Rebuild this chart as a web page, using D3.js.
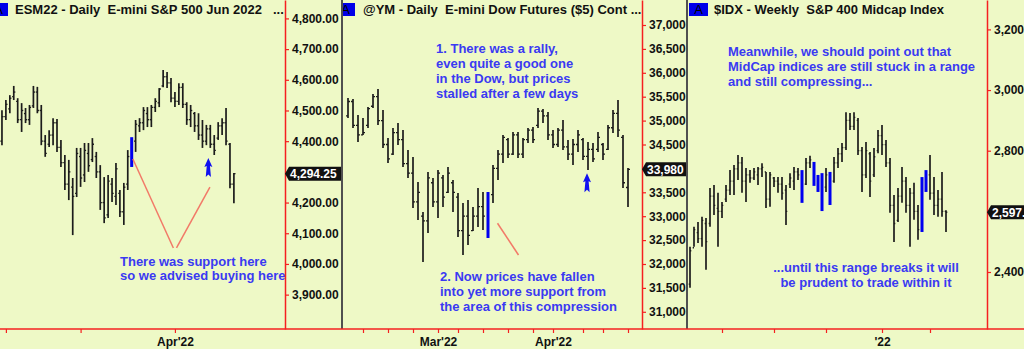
<!DOCTYPE html>
<html>
<head>
<meta charset="utf-8">
<script src="https://cdn.jsdelivr.net/npm/d3@7"></script>
<style>
  body { margin: 0; background: #eef9c6; }
  svg { display: block; font-family: "Liberation Sans", Arial, sans-serif; }
</style>
</head>
<body>
<svg id="chart" width="1024" height="349"></svg>
<script>
// ---- data: [open, high, low, close] per bar ----
var esBars = [
  [4400,4501,4387,4480],[4480,4534,4469,4520],[4505,4550,4491,4540],[4545,4580,4534,4560],[4530,4540,4459,4470],
  [4470,4524,4430,4500],[4490,4508,4459,4470],[4470,4518,4453,4510],[4515,4580,4508,4560],[4560,4577,4491,4500],
  [4500,4518,4387,4400],[4400,4420,4349,4360],[4390,4436,4381,4420],[4420,4475,4387,4460],[4460,4472,4365,4380],
  [4380,4404,4316,4330],[4330,4355,4241,4260],[4260,4339,4208,4300],[4250,4280,4094,4220],[4230,4378,4218,4360],
  [4350,4378,4251,4280],[4290,4394,4267,4370],[4360,4394,4300,4320],[4340,4410,4332,4390],[4350,4365,4280,4300],
  [4300,4322,4176,4200],[4200,4283,4133,4150],[4160,4290,4150,4270],[4260,4280,4202,4230],[4220,4329,4192,4310],
  [4230,4241,4153,4170],[4170,4264,4127,4250],[4260,4371,4241,4350],[4330,4413,4316,4400],[4400,4469,4365,4455],
  [4450,4475,4430,4460],[4460,4511,4436,4500],[4490,4511,4446,4470],[4470,4518,4446,4510],[4510,4540,4495,4530],
  [4525,4573,4511,4570],[4580,4632,4576,4610],[4610,4625,4573,4590],[4590,4606,4527,4540],[4540,4560,4511,4530],
  [4530,4589,4518,4575],[4575,4589,4508,4520],[4520,4527,4453,4470],[4470,4518,4446,4500],[4490,4495,4430,4450],
  [4450,4491,4404,4420],[4420,4469,4378,4400],[4400,4453,4387,4440],[4440,4453,4378,4390],[4390,4420,4355,4370],
  [4410,4462,4404,4450],[4450,4475,4420,4460],[4460,4508,4387,4400],[4390,4394,4247,4260],[4260,4296,4198,4294.25]
];
var esBlue = [33];
var esYTicks = [3900, 4000, 4100, 4200, 4300, 4400, 4500, 4600, 4700, 4800];
var esXTicks = [1, 20, 44];
var esXLabels = ["", "", "Apr'22"];
var esNote = ["There was support here", "so we advised buying here"];
var esArrows = [[52.5, 4345]];
var esLines = [[[33.3, 4342], [43.6, 4052]], [[44.4, 4052], [52.9, 4250]]];

var ymBars = [
  [35100,35473,35054,35400],[35400,35452,34845,34900],[34900,35117,34552,34700],[34700,35054,34699,34750],[34900,35285,34845,35250],
  [35300,35557,35264,35500],[35500,35660,34908,35000],[35000,35222,34427,34500],[34500,34636,34113,34200],[34300,34845,34280,34750],
  [34750,34950,34490,34600],[34600,34803,34029,34100],[34100,34385,33799,33900],[33900,34239,33172,33300],[33300,33716,32921,33500],
  [33000,33088,32042,32900],[32900,33925,32648,33800],[33700,33799,33192,33300],[33300,33966,32962,33900],[33800,33862,33192,33400],
  [33500,34029,33485,33900],[33700,33757,33088,33500],[33400,33485,32565,32700],[32700,33276,32188,33000],[33000,33339,32398,32600],
  [32700,33192,32690,33000],[33000,33590,32775,33200],[33200,33506,32711,33000],[32900,33506,32544,33450],[33450,34071,33276,34000],
  [34000,34385,33757,34300],[34300,34699,34113,34650],[34600,34636,34218,34300],[34300,34762,34280,34700],[34700,34762,34218,34300],
  [34300,34636,34218,34600],[34600,34845,34531,34800],[34800,34866,34531,34600],[34900,35264,34845,35200],[35200,35243,34950,35100],
  [35100,35180,34594,34700],[34700,34803,34427,34500],[34500,34845,34448,34800],[34800,35013,34385,34450],[34450,34594,34176,34300],
  [34300,34615,34071,34500],[34500,34803,34343,34700],[34600,34636,34176,34250],[34250,34552,33966,34400],[34400,34531,34134,34200],
  [34400,34762,34343,34650],[34500,34531,34176,34300],[34400,34908,34385,34850],[34850,35222,34740,35150],[35150,35431,34657,34800],
  [34650,34699,33590,33700],[33600,34008,33192,33980]
];
var ymBlue = [28];
var ymYTicks = [31000, 31500, 32000, 32500, 33000, 33500, 34000, 34500, 35000, 35500, 36000, 36500, 37000];
var ymXTicks = [3, 8, 13, 18, 22, 27, 32, 37, 41, 47, 51, 56];
var ymXLabels = ["", "", "", "Mar'22", "", "", "", "", "Apr'22", "", "", ""];
var ymNote1 = ["1. There was a rally,", "even quite a good one", "in the Dow, but prices", "stalled after a few days"];
var ymNote2 = ["2. Now prices have fallen", "into yet more support from", "the area of this compression"];
var ymArrows = [[47.8, 33898]];
var ymLines = [[[29.9, 32852], [34.1, 32188]]];

var idxBars = [
  [2360,2483,2348,2470],[2480,2549,2483,2540],[2530,2565,2496,2510],[2510,2582,2483,2570],[2560,2578,2407,2500],
  [2560,2677,2549,2650],[2650,2687,2588,2620],[2610,2661,2483,2600],[2600,2631,2578,2620],[2640,2687,2631,2670],
  [2670,2736,2654,2700],[2700,2753,2654,2740],[2740,2786,2703,2760],[2760,2779,2661,2700],[2700,2743,2631,2720],
  [2720,2736,2694,2710],[2710,2743,2703,2730],[2720,2746,2687,2740],[2740,2759,2713,2745],[2730,2730,2611,2640],
  [2640,2730,2615,2720],[2710,2713,2680,2700],[2700,2713,2661,2690],[2690,2713,2638,2660],[2670,2687,2555,2600],
  [2690,2726,2677,2710],[2700,2746,2670,2730],[2730,2743,2703,2720],[2720,2736,2628,2660],[2690,2776,2687,2760],
  [2760,2783,2743,2770],[2760,2763,2684,2700],[2700,2720,2664,2690],[2700,2726,2601,2640],[2680,2743,2664,2720],
  [2720,2730,2621,2650],[2700,2779,2694,2760],[2760,2809,2743,2790],[2790,2825,2763,2810],[2810,2927,2802,2900],
  [2900,2924,2868,2880],[2880,2927,2868,2910],[2900,2908,2786,2800],[2800,2812,2664,2720],[2720,2829,2710,2800],
  [2790,2796,2647,2700],[2720,2809,2713,2780],[2800,2868,2792,2850],[2850,2885,2786,2820],[2820,2835,2746,2760],
  [2760,2776,2595,2620],[2620,2654,2499,2560],[2570,2677,2565,2650],[2650,2746,2628,2700],[2700,2713,2595,2620],
  [2620,2677,2483,2660],[2660,2694,2572,2600],[2600,2621,2506,2540],[2540,2713,2532,2700],[2700,2736,2664,2720],
  [2720,2786,2638,2660],[2660,2713,2588,2620],[2620,2670,2582,2640],[2640,2730,2582,2600],[2600,2604,2532,2597]
];
var idxBlue = [28, 31, 32, 33, 35, 58, 59];
var idxYTicks = [2400, 2600, 2800, 3000, 3200];
var idxXTicks = [8, 21, 34, 48, 60];
var idxXLabels = ["", "", "", "'22", ""];
var idxNote1 = ["Meanwhile, we should point out that", "MidCap indices are still stuck in a range", "and still compressing..."];
var idxNote2 = ["...until this range breaks it will", "be prudent to trade within it"];

// ---- layout ----
var W = 1024, H = 349, baseY = 329;
var bg = "#eef9c6", red = "#f52020", barColor = "#1c1c1c", blue = "#0000f0", noteBlue = "#3a3af2", lineRed = "#f27a68";

var panels = [
  { left: 0, axisX: 285, right: 341, xDomain: [-0.5, 72], yDomain: [3788, 4860],
    bars: esBars, blue: esBlue, tick: 1.6, yTicks: esYTicks, fmt: ",.2f",
    xTicks: esXTicks, xLabels: esXLabels, last: 4294.25, lastText: "4,294.25",
    boxX: -11, titleX: 15, title: "ESM22 - Daily  E-mini S&P 500 Jun 2022", more: 273,
    notes: [{ lines: esNote, x: 120, y: 265.5, anchor: "start" }],
    arrows: esArrows, lines: esLines },
  { left: 343, axisX: 642, right: 686, xDomain: [-1, 58.8], yDomain: [30640, 37523],
    bars: ymBars, blue: ymBlue, tick: 2, yTicks: ymYTicks, fmt: ",",
    xTicks: ymXTicks, xLabels: ymXLabels, last: 33980, lastText: "33,980",
    boxX: 336, titleX: 363, title: "@YM - Daily  E-mini Dow Futures ($5) Cont ...", more: null,
    notes: [{ lines: ymNote1, x: 436, y: 53.3, anchor: "start" },
            { lines: ymNote2, x: 440, y: 281, anchor: "start" }],
    arrows: ymArrows, lines: ymLines },
  { left: 688, axisX: 987, right: 1030, xDomain: [-0.5, 74.25], yDomain: [2212, 3297],
    bars: idxBars, blue: idxBlue, tick: 1.3, yTicks: idxYTicks, fmt: ",",
    xTicks: idxXTicks, xLabels: idxXLabels, last: 2597, lastText: "2,597.",
    boxX: 689, titleX: 714, title: "$IDX - Weekly  S&P 400 Midcap Index", more: null,
    notes: [{ lines: idxNote1, x: 728, y: 56, anchor: "start" },
            { lines: idxNote2, x: 866, y: 271.7, anchor: "middle" }],
    arrows: [], lines: [] }
];

var svg = d3.select("#chart");
svg.append("rect").attr("width", W).attr("height", H).attr("fill", bg);

panels.forEach(function(p, k){ drawPanel(p, k); });

// separators and the shared baseline
[341, 686].forEach(function(sx){
  svg.append("rect").attr("x", sx).attr("y", 0).attr("width", 2).attr("height", baseY)
    .attr("fill", "#505050");
});
svg.append("line").attr("x1", 0).attr("x2", W).attr("y1", baseY).attr("y2", baseY)
  .attr("stroke", red).attr("stroke-width", 1.5);

function drawPanel(p, k){
  var x = d3.scaleLinear().domain(p.xDomain).range([p.left, p.axisX]);
  var y = d3.scaleLinear().domain(p.yDomain).range([baseY, 0]);

  svg.append("clipPath").attr("id", "clip" + k).append("rect")
    .attr("x", p.left).attr("y", 0).attr("width", p.axisX - p.left).attr("height", baseY);
  var g = svg.append("g").attr("clip-path", "url(#clip" + k + ")");

  // title
  g.append("rect").attr("x", p.boxX).attr("y", 3).attr("width", 19).attr("height", 13).attr("fill", "#0000e8");
  g.append("text").attr("x", p.boxX + 9.5).attr("y", 14).attr("text-anchor", "middle")
    .attr("font-size", 13).attr("fill", "#000").text("A");
  g.append("text").attr("x", p.titleX).attr("y", 14).attr("font-size", 13).attr("font-weight", "bold")
    .attr("fill", "#111").style("white-space", "pre").text(p.title);
  if (p.more != null) {
    g.append("text").attr("x", p.more).attr("y", 14).attr("font-size", 13).attr("font-weight", "bold")
      .attr("fill", "#111").text("...");
  }

  // bars
  g.append("g").selectAll("g").data(p.bars).enter().append("g")
    .each(function(d, i){
      var s = d3.select(this);
      var cx = x(i);
      if (p.blue.indexOf(i) >= 0) {
        s.append("rect").attr("x", cx - 1.5).attr("y", y(d[1]))
          .attr("width", 3).attr("height", y(d[2]) - y(d[1])).attr("fill", blue);
        return;
      }
      s.append("line").attr("x1", cx).attr("x2", cx).attr("y1", y(d[1])).attr("y2", y(d[2]))
        .attr("stroke", barColor).attr("stroke-width", 1.7);
      s.append("line").attr("x1", cx - p.tick).attr("x2", cx).attr("y1", y(d[0])).attr("y2", y(d[0]))
        .attr("stroke", barColor).attr("stroke-width", 1.3);
      s.append("line").attr("x1", cx).attr("x2", cx + p.tick).attr("y1", y(d[3])).attr("y2", y(d[3]))
        .attr("stroke", barColor).attr("stroke-width", 1.3);
    });

  // annotation lines
  p.lines.forEach(function(l){
    g.append("line").attr("x1", x(l[0][0])).attr("y1", y(l[0][1]))
      .attr("x2", x(l[1][0])).attr("y2", y(l[1][1]))
      .attr("stroke", lineRed).attr("stroke-width", 1.5);
  });

  // arrows
  p.arrows.forEach(function(a){
    g.append("path")
      .attr("transform", "translate(" + x(a[0]) + "," + y(a[1]) + ")")
      .attr("d", "M0,0 L4,9 L1.6,8 L2.6,19 L0,16.5 L-2.6,19 L-1.6,8 L-4,9 Z")
      .attr("fill", "#1010f0");
  });

  // notes
  p.notes.forEach(function(n){
    var t = g.append("text").attr("font-size", 13).attr("font-weight", "bold")
      .attr("fill", noteBlue).attr("text-anchor", n.anchor);
    n.lines.forEach(function(line, j){
      t.append("tspan").attr("x", n.x).attr("y", n.y + j * 14.8).text(line);
    });
  });

  // y axis (right)
  var ya = svg.append("g").attr("transform", "translate(" + p.axisX + ",0)")
    .call(d3.axisRight(y).tickValues(p.yTicks).tickFormat(d3.format(p.fmt))
      .tickSize(4).tickSizeOuter(0).tickPadding(3));
  ya.select(".domain").attr("stroke", red).attr("stroke-width", 1.5);
  ya.selectAll(".tick line").attr("stroke", red).attr("stroke-width", 1.2);
  ya.selectAll(".tick text").attr("fill", "#111").attr("font-size", 12).attr("font-weight", "bold")
    .attr("font-family", "Liberation Sans, Arial, sans-serif");

  // last price tag
  var yc = y(p.last);
  svg.append("path")
    .attr("d", "M" + p.axisX + "," + yc + " L" + (p.axisX + 4) + "," + (yc - 7) + " L" + p.right + "," + (yc - 7) +
      " L" + p.right + "," + (yc + 7) + " L" + (p.axisX + 4) + "," + (yc + 7) + " Z")
    .attr("fill", "#111");
  svg.append("text").attr("x", p.axisX + 5).attr("y", yc).attr("dy", "0.36em")
    .attr("font-size", 12).attr("font-weight", "bold").attr("fill", "#fff").text(p.lastText);

  // x axis
  var xa = svg.append("g").attr("transform", "translate(0," + baseY + ")")
    .call(d3.axisBottom(x).tickValues(p.xTicks)
      .tickFormat(function(d, i){ return p.xLabels[i]; })
      .tickSize(4).tickSizeOuter(0).tickPadding(4));
  xa.select(".domain").remove();
  xa.selectAll(".tick line").attr("stroke", red).attr("stroke-width", 1.2);
  xa.selectAll(".tick text").attr("fill", "#111").attr("font-size", 12).attr("font-weight", "bold")
    .attr("font-family", "Liberation Sans, Arial, sans-serif");
}
</script>
</body>
</html>
